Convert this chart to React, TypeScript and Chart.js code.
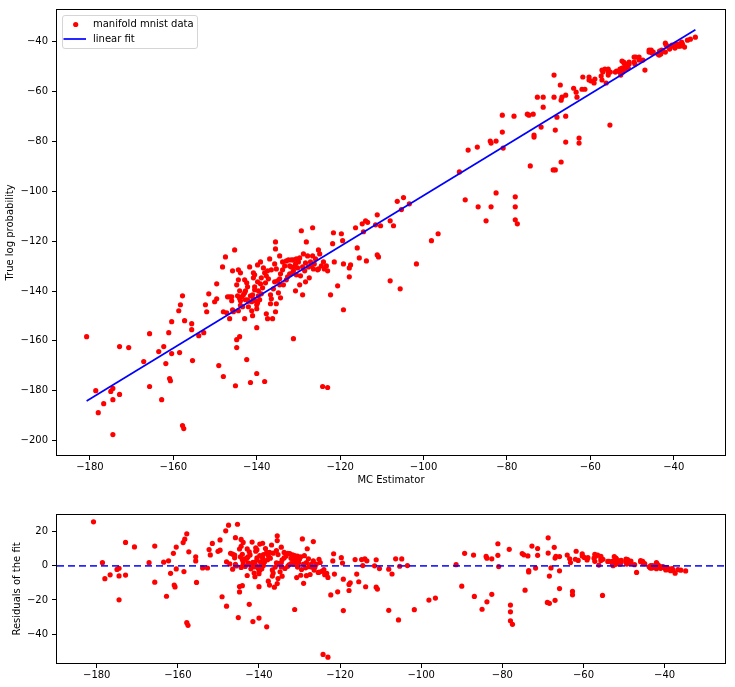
import React, { useEffect, useRef } from "react";
import { Chart, registerables } from "chart.js";

Chart.register(...registerables);

const FONT_FAMILY = "'DejaVu Sans', sans-serif";

// MC estimator (x) of each sample
const mcEstimator: number[] = [
  -180.8, -178.6, -178.0, -176.7, -175.0, -174.5, -174.5, -174.5, -172.9, -172.9,
  -170.7, -167.1, -165.7, -165.7, -163.5, -162.8, -162.3, -161.8, -161.1, -160.9,
  -160.7, -160.4, -160.4, -158.7, -158.5, -158.3, -157.8, -157.8, -157.5, -157.3,
  -155.6, -155.6, -155.4, -153.9, -152.7, -152.3, -152.0, -151.5, -150.1, -149.6,
  -149.6, -149.1, -148.2, -148.0, -148.0, -147.5, -147.2, -147.0, -146.5, -146.5,
  -146.0, -146.0, -145.8, -145.8, -145.6, -145.3, -145.1, -144.8, -144.8, -144.8,
  -144.6, -144.4, -144.4, -144.4, -144.1, -144.1, -144.1, -143.9, -143.9, -143.9,
  -143.6, -143.4, -143.2, -142.9, -142.9, -142.7, -142.4, -142.4, -142.2, -142.0,
  -141.7, -141.5, -141.2, -141.0, -141.0, -140.8, -140.8, -140.5, -140.5, -140.3,
  -140.0, -140.0, -139.8, -139.8, -139.8, -135.5, -135.5, -136.9, -139.1, -134.5,
  -135.7, -135.3, -136.5, -137.4, -137.7, -138.9, -139.1, -138.6, -139.6, -138.9,
  -139.6, -139.3, -140.0, -140.0, -137.7, -137.4, -136.7, -136.5, -136.7, -135.3,
  -135.5, -136.2, -135.0, -134.5, -135.7, -134.3, -133.8, -133.3, -133.8, -132.9,
  -132.4, -131.7, -131.2, -130.5, -129.7, -130.0, -128.8, -127.8, -128.1, -129.3,
  -126.6, -125.2, -124.9, -126.6, -126.2, -124.5, -125.2, -124.0, -123.8, -121.6,
  -121.8, -121.4, -120.6, -122.3, -127.4, -128.3, -129.7, -130.7, -129.0, -129.5,
  -130.5, -131.4, -132.1, -132.6, -131.7, -130.9, -130.2, -129.0, -128.5, -127.6,
  -127.1, -126.4, -134.5, -138.1, -131.2, -124.2, -123.0, -142.7, -142.2, -140.8,
  -140.5, -141.5, -141.2, -142.0, -142.9, -138.1, -138.4, -137.9, -137.2, -136.0,
  -134.8, -133.6, -134.3, -132.9, -132.1, -131.2, -130.7, -128.3, -126.9, -125.9,
  -125.4, -123.3, -123.0, -119.2, -119.7, -119.4, -119.2, -117.8, -117.5, -117.8,
  -115.9, -116.3, -115.4, -113.7, -114.4, -114.7, -113.9, -113.4, -111.5, -110.3,
  -111.1, -110.8, -108.0, -107.2, -108.0, -105.6, -101.7, -98.1, -96.5, -111.1,
  -106.3, -105.3, -104.8, -103.4, -91.4, -90.0, -89.3, -87.1, -86.9, -85.0,
  -84.0, -83.8, -82.6, -82.6, -83.8, -81.1, -81.1, -80.9, -78.3, -78.0,
  -78.0, -78.0, -77.5, -75.1, -74.7, -73.7, -74.4, -73.5, -73.5, -72.7,
  -71.8, -71.3, -71.3, -68.7, -68.7, -68.9, -68.4, -68.4, -68.0, -67.2,
  -67.0, -66.8, -67.0, -65.9, -65.9, -65.9, -64.0, -63.4, -63.2, -62.7,
  -62.7, -62.0, -61.3, -61.8, -60.3, -60.3, -59.8, -59.1, -58.9, -57.4,
  -57.2, -57.0, -56.2, -55.7, -55.7, -55.7, -55.3, -55.2, -54.0, -53.7,
  -52.9, -52.9, -52.7, -52.4, -52.4, -52.2, -51.9, -51.7, -51.4, -51.2,
  -50.9, -50.7, -49.5, -49.5, -49.3, -48.3, -48.3, -47.4, -46.9, -45.9,
  -45.9, -45.2, -44.9, -43.8, -43.5, -42.9, -42.0, -42.0, -41.8, -41.0,
  -40.7, -39.9, -39.7, -39.5, -39.0, -38.8, -38.5, -38.1, -37.9, -37.4,
  -36.7, -36.0, -34.8, -57.2, -56.5, -52.0, -50.7, -49.1, -45.4, -43.4,
  -43.1, -42.6, -41.5, -40.9, -40.4,
];

// True log probability (y) of each sample, same order
const trueLogProb: number[] = [
  -158.3, -180.0, -188.8, -185.2, -180.3, -179.1, -183.6, -197.6, -162.3, -181.5,
  -162.7, -168.3, -157.1, -178.3, -164.3, -183.6, -162.3, -169.1, -156.7, -175.1,
  -176.0, -152.3, -165.1, -147.9, -164.7, -145.5, -141.9, -194.0, -195.2, -151.9,
  -153.1, -155.5, -167.9, -157.9, -156.7, -145.5, -148.3, -141.1, -144.3, -137.1,
  -143.1, -169.9, -130.3, -148.3, -174.3, -126.3, -148.7, -142.3, -142.3, -151.1,
  -142.3, -143.9, -131.9, -147.5, -148.3, -123.5, -178.0, -137.5, -162.7, -159.5,
  -141.9, -131.5, -135.5, -147.9, -139.9, -158.3, -143.0, -132.7, -143.9, -145.7,
  -142.3, -146.3, -141.5, -140.7, -151.1, -143.5, -136.7, -167.5, -143.5, -144.1,
  -130.3, -176.7, -147.9, -141.5, -149.9, -132.7, -143.1, -133.5, -138.3, -143.9,
  -154.7, -173.1, -129.5, -136.3, -144.7, -120.3, -123.1, -127.1, -128.3, -125.9,
  -129.1, -131.1, -131.5, -131.9, -133.9, -134.7, -137.1, -138.7, -139.9, -141.1,
  -141.9, -143.5, -145.5, -147.1, -149.1, -151.1, -141.5, -143.1, -145.1, -145.1,
  -148.3, -151.1, -135.9, -137.5, -136.3, -133.1, -131.5, -129.9, -128.3, -127.9,
  -127.5, -127.5, -127.5, -127.1, -126.7, -128.3, -125.1, -125.9, -120.3, -115.8,
  -114.6, -123.5, -125.1, -125.9, -129.1, -129.9, -131.1, -128.3, -131.1, -116.6,
  -121.0, -128.3, -137.9, -141.5, -134.7, -136.3, -137.5, -139.9, -141.5, -133.9,
  -133.5, -132.7, -133.1, -134.3, -130.3, -130.3, -130.7, -130.3, -131.9, -130.3,
  -128.3, -131.1, -135.1, -176.3, -159.1, -178.3, -178.7, -139.9, -138.3, -134.7,
  -139.5, -141.9, -144.3, -146.3, -135.5, -132.7, -130.7, -136.7, -135.1, -139.1,
  -140.7, -137.5, -142.7, -135.5, -129.9, -131.9, -129.1, -128.7, -129.9, -127.1,
  -131.5, -129.9, -131.9, -147.5, -117.0, -119.8, -129.1, -130.7, -129.5, -134.3,
  -122.7, -114.6, -126.7, -127.9, -116.2, -113.0, -111.8, -112.4, -113.4, -113.8,
  -125.5, -126.3, -111.8, -113.8, -135.9, -139.1, -129.1, -119.8, -117.0, -109.4,
  -104.0, -107.3, -102.5, -105.0, -92.2, -103.4, -83.4, -82.2, -106.2, -111.8,
  -79.8, -80.6, -79.8, -100.6, -106.2, -69.4, -76.2, -82.6, -69.8, -102.2,
  -106.2, -111.4, -113.0, -69.0, -69.4, -69.0, -89.8, -77.4, -78.2, -62.2,
  -74.2, -62.2, -66.2, -53.3, -62.2, -91.4, -91.4, -75.4, -70.2, -57.3,
  -63.4, -62.2, -88.2, -61.4, -69.8, -80.2, -58.6, -60.2, -62.2, -78.6,
  -80.6, -59.0, -59.0, -54.1, -54.1, -55.3, -55.7, -56.5, -54.9, -53.7,
  -55.3, -52.1, -56.5, -50.9, -52.1, -53.3, -73.4, -52.1, -52.1, -51.7,
  -50.9, -52.1, -53.3, -47.7, -50.5, -52.1, -48.5, -49.7, -50.9, -48.9,
  -50.5, -48.9, -46.1, -48.1, -48.9, -46.1, -47.3, -47.3, -51.3, -43.3,
  -44.1, -44.5, -44.1, -44.9, -45.3, -43.3, -40.5, -44.1, -41.3, -42.9,
  -41.7, -41.7, -42.5, -40.9, -41.7, -40.9, -41.7, -40.1, -40.9, -42.1,
  -39.3, -38.9, -38.1, -51.3, -50.9, -48.1, -48.1, -46.1, -43.3, -43.7,
  -44.9, -43.7, -41.7, -42.5, -41.3,
];

// Linear fit: y = slope * x + intercept
const fitSlope = 1.0206;
const fitIntercept = 0.42;

const xTickValues = [-180, -160, -140, -120, -100, -80, -60, -40];
const mainYTickValues = [-200, -180, -160, -140, -120, -100, -80, -60, -40];
const residualYTickValues = [-40, -20, 0, 20];

const mainXLimits = [-187.9, -27.7];
const mainYLimits = [-205.8, -27.2];
const residualXLimits = [-189.8, -25.1];
const residualYLimits = [-57.0, 29.8];

const seriesLabel = "manifold mnist data";
const fitLabel = "linear fit";
const xTitle = "MC Estimator";
const mainYTitle = "True log probability";
const residualYTitle = "Residuals of the fit";

const fmt = (v: number) => (v < 0 ? "\u2212" + Math.abs(v) : String(v));
const font = { family: FONT_FAMILY, size: 10 };
const POINT_RADIUS = 2.6;

const framePlugin = {
  id: "mplFrame",
  afterDraw(chart: any) {
    const { ctx, chartArea: a } = chart;
    ctx.save();
    ctx.strokeStyle = "#000";
    ctx.lineWidth = 1;
    ctx.strokeRect(a.left - 0.5, a.top - 0.5, a.right - a.left + 1, a.bottom - a.top + 1);
    ctx.restore();
  },
};

const legendPlugin = {
  id: "mplLegend",
  afterDraw(chart: any) {
    const { ctx, chartArea: a } = chart;
    const x = a.left + 5;
    const y = a.top + 5;
    ctx.save();
    ctx.beginPath();
    ctx.roundRect(x + 0.5, y + 0.5, 135, 33, 2.5);
    ctx.fillStyle = "rgba(255,255,255,0.8)";
    ctx.fill();
    ctx.strokeStyle = "#d5d5d5";
    ctx.lineWidth = 1;
    ctx.stroke();
    ctx.fillStyle = "#ff0000";
    ctx.beginPath();
    ctx.arc(x + 13.7, y + 9.5, POINT_RADIUS, 0, Math.PI * 2);
    ctx.fill();
    ctx.strokeStyle = "#0000ff";
    ctx.lineWidth = 1.7;
    ctx.beginPath();
    ctx.moveTo(x + 1.5, y + 24);
    ctx.lineTo(x + 24, y + 24);
    ctx.stroke();
    ctx.fillStyle = "#000";
    ctx.font = `10px ${FONT_FAMILY}`;
    ctx.textAlign = "left";
    ctx.textBaseline = "middle";
    ctx.fillText(seriesLabel, x + 31, y + 9.5);
    ctx.fillText(fitLabel, x + 31, y + 24);
    ctx.restore();
  },
};

function xAxis(limits: number[], height: number, title: string | null, titlePad: number) {
  return {
    type: "linear",
    position: "bottom",
    min: limits[0],
    max: limits[1],
    afterBuildTicks: (s: any) => {
      s.ticks = xTickValues.map((v) => ({ value: v }));
    },
    afterFit: (s: any) => {
      s.height = height;
    },
    ticks: {
      callback: (v: number) => fmt(v),
      font,
      color: "#000",
      padding: 1,
      maxRotation: 0,
      autoSkip: false,
    },
    grid: { drawOnChartArea: false, drawTicks: true, tickLength: 5, color: "#000", tickColor: "#000", lineWidth: 1 },
    border: { display: false },
    title: title
      ? { display: true, text: title, font, color: "#000", padding: { top: 0, bottom: titlePad } }
      : { display: false },
  };
}

function yAxis(limits: number[], tickValues: number[], title: string, titlePad: number) {
  return {
    type: "linear",
    position: "left",
    min: limits[0],
    max: limits[1],
    afterBuildTicks: (s: any) => {
      s.ticks = tickValues.map((v) => ({ value: v }));
    },
    afterFit: (s: any) => {
      s.width = 57;
    },
    ticks: {
      callback: (v: number) => fmt(v),
      font,
      color: "#000",
      padding: 4,
      autoSkip: false,
    },
    grid: { drawOnChartArea: false, drawTicks: true, tickLength: 5, color: "#000", tickColor: "#000", lineWidth: 1 },
    border: { display: false },
    title: { display: true, text: title, font, color: "#000", padding: { top: titlePad, bottom: 0 } },
  };
}

export default function App() {
  const topRef = useRef<HTMLCanvasElement>(null);
  const botRef = useRef<HTMLCanvasElement>(null);

  useEffect(() => {
    const points = mcEstimator.map((x, i) => ({ x, y: trueLogProb[i] }));
    const xMin = Math.min(...mcEstimator);
    const xMax = Math.max(...mcEstimator);
    const fitLine = [xMin, xMax].map((x) => ({ x, y: fitSlope * x + fitIntercept }));
    const residuals = mcEstimator.map((x, i) => ({ x, y: trueLogProb[i] - (fitSlope * x + fitIntercept) }));
    const zeroLine = residualXLimits.map((x) => ({ x, y: 0 }));

    const common = {
      responsive: false,
      animation: false,
      devicePixelRatio: 1,
      events: [],
    };

    const top = new Chart(topRef.current as HTMLCanvasElement, {
      type: "scatter",
      data: {
        datasets: [
          {
            type: "line",
            label: fitLabel,
            data: fitLine,
            borderColor: "#0000ff",
            borderWidth: 1.7,
            pointRadius: 0,
            fill: false,
            order: 0,
          } as any,
          {
            label: seriesLabel,
            data: points,
            backgroundColor: "#ff0000",
            pointBackgroundColor: "#ff0000",
            pointRadius: POINT_RADIUS,
            pointBorderWidth: 0,
            borderWidth: 0,
            order: 1,
          },
        ],
      },
      options: {
        ...common,
        layout: { padding: { left: 0, right: 10, top: 10, bottom: 0 } },
        plugins: { legend: { display: false }, tooltip: { enabled: false } },
        scales: {
          x: xAxis(mainXLimits, 35, xTitle, 4) as any,
          y: yAxis(mainYLimits, mainYTickValues, mainYTitle, 4.5) as any,
        },
      } as any,
      plugins: [framePlugin, legendPlugin],
    });

    const bot = new Chart(botRef.current as HTMLCanvasElement, {
      type: "scatter",
      data: {
        datasets: [
          {
            type: "line",
            label: "zero",
            data: zeroLine,
            borderColor: "rgba(0,0,255,0.85)",
            borderWidth: 1.7,
            borderDash: [7, 4],
            pointRadius: 0,
            fill: false,
            order: 0,
          } as any,
          {
            label: "residuals",
            data: residuals,
            backgroundColor: "#ff0000",
            pointBackgroundColor: "#ff0000",
            pointRadius: POINT_RADIUS,
            pointBorderWidth: 0,
            borderWidth: 0,
            order: 1,
          },
        ],
      },
      options: {
        ...common,
        layout: { padding: { left: 0, right: 10, top: 25, bottom: 0 } },
        plugins: { legend: { display: false }, tooltip: { enabled: false } },
        scales: {
          x: xAxis(residualXLimits, 24, null, 0) as any,
          y: yAxis(residualYLimits, residualYTickValues, residualYTitle, 11.5) as any,
        },
      } as any,
      plugins: [framePlugin],
    });

    return () => {
      top.destroy();
      bot.destroy();
    };
  }, []);

  return (
    <div style={{ position: "fixed", left: 0, top: 0, width: 735, height: 687, background: "#fff" }}>
      <canvas
        ref={topRef}
        width={735}
        height={490}
        style={{ position: "absolute", left: 0, top: 0, width: 735, height: 490 }}
      />
      <canvas
        ref={botRef}
        width={735}
        height={197}
        style={{ position: "absolute", left: 0, top: 490, width: 735, height: 197 }}
      />
    </div>
  );
}
